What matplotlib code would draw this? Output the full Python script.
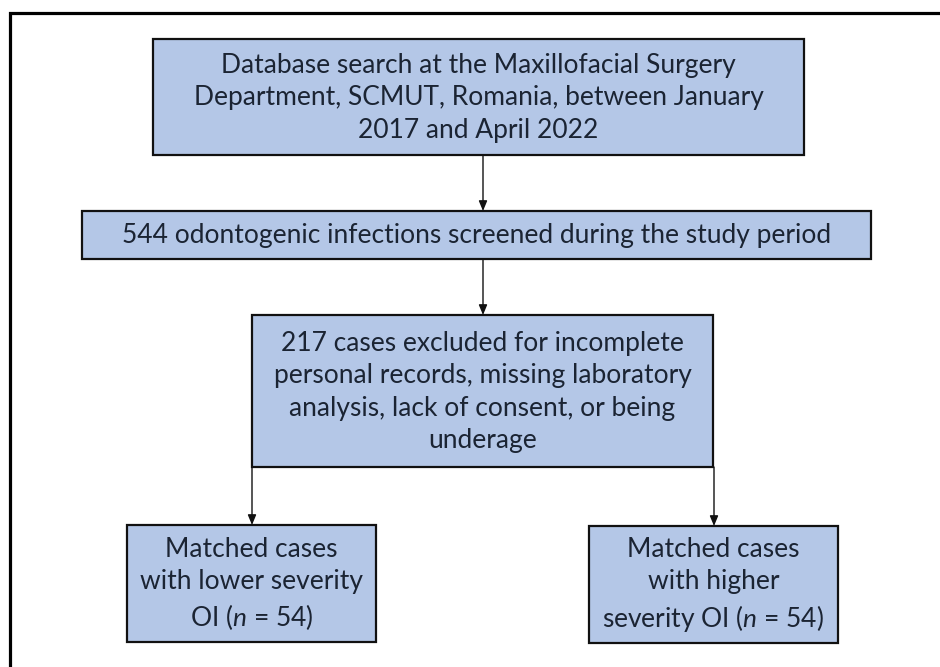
import matplotlib
matplotlib.use("Agg")
import matplotlib.pyplot as plt
from matplotlib.patches import Rectangle

plt.rcParams['font.family'] = ['Lato', 'DejaVu Sans']
plt.rcParams['mathtext.fontset'] = 'custom'
plt.rcParams['mathtext.rm'] = 'Lato'
plt.rcParams['mathtext.it'] = 'Lato:italic'

# Box texts
box_texts = [
    "Database search at the Maxillofacial Surgery\nDepartment, SCMUT, Romania, between January\n2017 and April 2022",
    "544 odontogenic infections screened during the study period",
    "217 cases excluded for incomplete\npersonal records, missing laboratory\nanalysis, lack of consent, or being\nunderage",
    "Matched cases\nwith lower severity\nOI ($n$ = 54)",
    "Matched cases\nwith higher\nseverity OI ($n$ = 54)",
]
# layout (pixels): left, top, right, bottom
box_geom = [
    (153, 39, 804, 155),
    (82, 211, 871, 259),
    (252, 315, 713, 467),
    (127, 525, 376, 642),
    (589, 526, 838, 643),
]
# arrows: x, y_start, y_end
arrows = [
    (483, 155, 211),
    (483, 259, 315),
    (252, 467, 525),
    (714, 467, 526),
]

fill = "#B4C7E7"
txtc = "#1B2433"

fig = plt.figure(figsize=(9.4, 6.67), dpi=100)
ax = fig.add_axes([0, 0, 1, 1])
ax.set_xlim(0, 940)
ax.set_ylim(667, 0)
ax.axis("off")

# outer frame (only left and top sides visible in the original)
ax.plot([10, 10, 960], [700, 13, 13], color="black", lw=2.3,
        solid_joinstyle="miter", clip_on=True)

for (l, t, r, b), txt in zip(box_geom, box_texts):
    ax.add_patch(Rectangle((l, t), r - l, b - t, facecolor=fill,
                           edgecolor="#111111", lw=1.6, zorder=2))
    ax.text((l + r) / 2, (t + b) / 2 + 1, txt, ha="center", va="center",
            fontsize=19, color=txtc, linespacing=1.36, zorder=3)

for x, y0, y1 in arrows:
    ax.annotate("", xy=(x, y1), xytext=(x, y0),
                arrowprops=dict(arrowstyle="-|>,head_length=0.6,head_width=0.25",
                                color="#111111", lw=1.0, shrinkA=0, shrinkB=0),
                zorder=1)

fig.savefig("out.png", dpi=100)
